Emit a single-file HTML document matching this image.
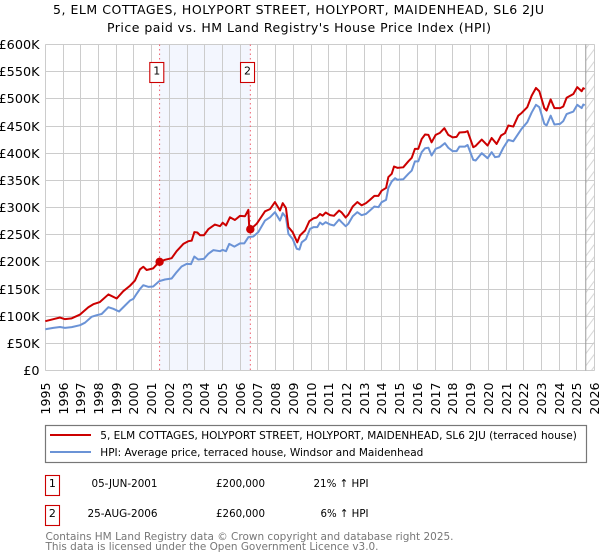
<!DOCTYPE html>
<html lang="en">
<head>
<meta charset="utf-8">
<title>Price paid vs. HM Land Registry's House Price Index</title>
<style>
html,body{margin:0;padding:0;background:#fff}
svg{display:block}
text{font-family:"DejaVu Sans","Liberation Sans",sans-serif;fill:#000}
</style>
</head>
<body>
<svg id="chart" xmlns="http://www.w3.org/2000/svg" width="600" height="560" viewBox="0 0 600 560">
  <defs>
    <pattern id="hatch" width="9" height="12.2" patternUnits="userSpaceOnUse" x="585.7" y="0">
      <line x1="0" y1="12.2" x2="9" y2="0" stroke="#ccc" stroke-width="0.8"/>
    </pattern>
  </defs>
  <text x="298.5" y="14" text-anchor="middle" font-size="12.5" textLength="491" lengthAdjust="spacing">5, ELM COTTAGES, HOLYPORT STREET, HOLYPORT, MAIDENHEAD, SL6 2JU</text>
  <text x="299" y="32" text-anchor="middle" font-size="12.5" textLength="384" lengthAdjust="spacing">Price paid vs. HM Land Registry's House Price Index (HPI)</text>

  <g id="plot"></g>

  <g>
    <rect x="45.5" y="425.5" width="541" height="37" fill="#fff" stroke="#777" stroke-width="1.2"/>
    <line x1="50" y1="435" x2="91" y2="435" stroke="#cc0000" stroke-width="2"/>
    <text x="100.3" y="439" font-size="11" textLength="476.5" lengthAdjust="spacingAndGlyphs">5, ELM COTTAGES, HOLYPORT STREET, HOLYPORT, MAIDENHEAD, SL6 2JU (terraced house)</text>
    <line x1="50" y1="452" x2="91" y2="452" stroke="#6b93d6" stroke-width="2"/>
    <text x="100.3" y="456" font-size="11" textLength="323" lengthAdjust="spacingAndGlyphs">HPI: Average price, terraced house, Windsor and Maidenhead</text>
  </g>

  <g>
    <rect x="45.5" y="475.5" width="14" height="20" fill="#fff" stroke="#cc0000" stroke-width="1.1"/>
    <text x="52.4" y="487" text-anchor="middle" font-size="11">1</text>
    <text x="157.5" y="487" text-anchor="end" font-size="11" textLength="66" lengthAdjust="spacingAndGlyphs">05-JUN-2001</text>
    <text x="265" y="487" text-anchor="end" font-size="11" textLength="49" lengthAdjust="spacingAndGlyphs">£200,000</text>
    <text x="368.5" y="487" text-anchor="end" font-size="11" textLength="55" lengthAdjust="spacingAndGlyphs">21% ↑ HPI</text>
  </g>
  <g>
    <rect x="45.5" y="505.5" width="14" height="20" fill="#fff" stroke="#cc0000" stroke-width="1.1"/>
    <text x="52.4" y="517" text-anchor="middle" font-size="11">2</text>
    <text x="157.5" y="517" text-anchor="end" font-size="11" textLength="70" lengthAdjust="spacingAndGlyphs">25-AUG-2006</text>
    <text x="265" y="517" text-anchor="end" font-size="11" textLength="49" lengthAdjust="spacingAndGlyphs">£260,000</text>
    <text x="368.5" y="517" text-anchor="end" font-size="11" textLength="48" lengthAdjust="spacingAndGlyphs">6% ↑ HPI</text>
  </g>

  <text x="45.5" y="540" font-size="11" style="fill:#777" textLength="408" lengthAdjust="spacingAndGlyphs">Contains HM Land Registry data © Crown copyright and database right 2025.</text>
  <text x="45.5" y="550" font-size="11" style="fill:#777" textLength="333" lengthAdjust="spacingAndGlyphs">This data is licensed under the Open Government Licence v3.0.</text>
</svg>
<script>
const xTickYears = [1995,1996,1997,1998,1999,2000,2001,2002,2003,2004,2005,2006,2007,2008,2009,2010,2011,2012,2013,2014,2015,2016,2017,2018,2019,2020,2021,2022,2023,2024,2025,2026];
const yTickValues = [0,50,100,150,200,250,300,350,400,450,500,550,600];
const yTickLabels = ['£0','£50K','£100K','£150K','£200K','£250K','£300K','£350K','£400K','£450K','£500K','£550K','£600K'];

const priceDates = [1995,1995.45,1995.83,1996.11,1996.49,1996.96,1997.43,1997.71,1998.08,1998.56,1999.03,1999.4,1999.78,2000.06,2000.34,2000.53,2000.72,2001.09,2001.43,2001.75,2002.13,2002.41,2002.79,2003.07,2003.26,2003.41,2003.58,2003.73,2003.95,2004.2,2004.57,2004.86,2005.01,2005.2,2005.42,2005.7,2005.99,2006.27,2006.46,2006.51,2006.58,2006.93,2007.4,2007.68,2007.96,2008.245,2008.4,2008.58,2008.72,2008.96,2009.22,2009.37,2009.66,2009.9,2010.13,2010.32,2010.5,2010.65,2010.82,2011.07,2011.29,2011.58,2011.72,2011.95,2012.1,2012.35,2012.61,2012.85,2013.1,2013.32,2013.57,2013.8,2013.98,2014.23,2014.36,2014.55,2014.68,2014.87,2015.2,2015.49,2015.68,2015.86,2016.05,2016.24,2016.43,2016.62,2016.8,2017.03,2017.27,2017.52,2017.74,2017.99,2018.21,2018.37,2018.68,2018.83,2019.15,2019.29,2019.63,2019.96,2020.19,2020.47,2020.72,2020.94,2021.13,2021.41,2021.69,2021.88,2022.2,2022.45,2022.69,2022.88,2023.16,2023.29,2023.52,2023.73,2024.05,2024.23,2024.42,2024.8,2025.02,2025.27,2025.36,2025.44];
const priceValues = [90.8,94.5,97.5,94.5,96,103,116.5,122,126,140,132.5,146,156,165.6,186,191,185,188,200,203.7,206.7,219.6,233,238,239,254.6,254,249,249,260,268.7,265.6,272,267,282,277,284.7,284,295.7,262,260,270,293,297,310,294.5,308,299,264,254.6,236,248.5,257.7,274.8,280,281.6,288,285,290.8,286,284.7,294.5,291,281.6,287,301.8,310,304,308,314,321.5,321.5,331,336,356,362,375.5,373,374,385,391.4,408,408,426,434.4,433.7,420,433.7,437.4,446,433.7,429,430,438,438.7,440.5,411,413.5,425,414,428,417,432.5,436.8,451,449,469,474,484.7,506,520,514,483,478.5,499,483,483,486,502,509,521.5,514,519.6,518];

const hpiDates = [1995,1995.45,1995.83,1996.11,1996.49,1996.96,1997.24,1997.61,1997.9,1998.18,1998.56,1998.84,1999.16,1999.5,1999.78,1999.97,2000.15,2000.34,2000.53,2000.81,2001.09,2001.43,2001.75,2002.13,2002.41,2002.69,2002.98,2003.22,2003.41,2003.63,2003.95,2004.2,2004.48,2004.86,2005.01,2005.2,2005.38,2005.67,2005.99,2006.23,2006.46,2006.74,2007.02,2007.4,2007.68,2007.96,2008.245,2008.4,2008.58,2008.72,2008.96,2009.19,2009.34,2009.47,2009.71,2009.94,2010.13,2010.35,2010.5,2010.65,2010.82,2011.07,2011.29,2011.58,2011.72,2011.95,2012.1,2012.35,2012.61,2012.85,2013.1,2013.32,2013.57,2013.8,2013.98,2014.23,2014.36,2014.55,2014.74,2014.87,2015.2,2015.49,2015.68,2015.86,2016.05,2016.24,2016.43,2016.62,2016.8,2017.03,2017.27,2017.55,2017.74,2017.99,2018.21,2018.37,2018.68,2018.83,2019.15,2019.29,2019.63,2019.96,2020.19,2020.38,2020.6,2020.85,2021.13,2021.41,2021.69,2021.88,2022.2,2022.45,2022.69,2022.88,2023.16,2023.29,2023.52,2023.73,2024.05,2024.23,2024.42,2024.8,2025.02,2025.27,2025.36,2025.44];
const hpiValues = [76,78.5,80,78.5,79.8,83.4,88,98.8,101.8,104,116.6,113.5,108.6,119.6,128.8,131.9,141,150,157,154,154.6,164.4,167.5,169.3,181,191.4,196.3,195.7,209.8,204.3,205.5,214.7,221.5,219.6,222,219.6,233,228,234,234,245.4,246.6,254.6,276,282,291.4,276,289.6,282,251.5,242,224,222.7,236,242,260.7,263.8,263.8,272.4,268.7,273,268.7,266.9,277.9,273,265.6,270,284,291.4,285.9,288.3,294.5,301.8,300.6,309.8,314,336,347.9,354,351,352,362,368,385,385,401.8,409,410,395.7,408,411,418.4,410,403.7,403.7,412,412,415,387.7,386.5,400,390.8,401.8,392.6,393.9,410,424.5,422,435.6,444.8,457,475,489,484.7,454,451,469,452.8,454,459,472,476.7,489,483,489.6,488];

const saleDates = [2001.45,2006.57];
const saleValues = [200,260];
const saleNumbers = ['1','2'];
const forecastStart = 2025.5;

const NS = 'http://www.w3.org/2000/svg';
const plot = document.getElementById('plot');
const xScale = function (year) { return 45.3 + (year - 1995) * 17.72; };
const yScale = function (value) { return 370.5 - value * 0.5433; };
const snap = function (p) { return Math.floor(p) + 0.5; };
const make = function (tag, attrs, text) {
  const el = document.createElementNS(NS, tag);
  Object.keys(attrs).forEach(function (k) { el.setAttribute(k, attrs[k]); });
  if (text !== undefined) el.textContent = text;
  plot.appendChild(el);
  return el;
};
const xLeft = xScale(xTickYears[0]);
const xRight = xScale(xTickYears[xTickYears.length - 1]);
const yTop = yScale(yTickValues[yTickValues.length - 1]);
const yBottom = yScale(yTickValues[0]);

const band = make('rect', {x: xScale(saleDates[0]), y: yTop, width: xScale(saleDates[1]) - xScale(saleDates[0]), height: yBottom - yTop, fill: '#f3f6fe'});



const hatch = make('rect', {x: xScale(forecastStart), y: yTop, width: xRight - xScale(forecastStart), height: yBottom - yTop, fill: 'url(#hatch)'});



yTickValues.forEach(function (v, i) {
  const py = snap(yScale(v));
  const line = make('line', {x1: xLeft, x2: xRight, y1: py, y2: py, stroke: '#ccc', 'stroke-width': 1});
  
  
  const label = make('text', {x: 39.5, y: py + 4.5, 'text-anchor': 'end', 'font-size': 12.8}, yTickLabels[i]);
  
  
});

xTickYears.forEach(function (yr) {
  const px = snap(xScale(yr));
  const line = make('line', {x1: px, x2: px, y1: yTop, y2: yBottom, stroke: '#ccc', 'stroke-width': 1});
  
  
  const label = make('text', {x: 0, y: 0, 'text-anchor': 'end', 'font-size': 12.6, transform: 'translate(' + (px + 4.5) + ',382.5) rotate(-90)'}, String(yr));
  
  
});

const forecastLine = make('line', {x1: xScale(forecastStart), x2: xScale(forecastStart), y1: yTop, y2: yBottom, stroke: '#999', 'stroke-width': 1});



saleDates.forEach(function (d) {
  const guide = make('line', {x1: xScale(d), x2: xScale(d), y1: yTop, y2: yBottom, stroke: '#f0606e', 'stroke-width': 1, 'stroke-dasharray': '1.5 3'});
  
  
});

const buildPath = function (dates, values) {
  return dates.map(function (d, i) {
    return (i ? 'L' : 'M') + xScale(d).toFixed(2) + ' ' + yScale(values[i]).toFixed(2);
  }).join('');
};

const hpiLine = make('path', {d: buildPath(hpiDates, hpiValues), fill: 'none', stroke: '#6b93d6', 'stroke-width': 2, 'stroke-linejoin': 'round'});



const priceLine = make('path', {d: buildPath(priceDates, priceValues), fill: 'none', stroke: '#cc0000', 'stroke-width': 2, 'stroke-linejoin': 'round'});



saleDates.forEach(function (d, i) {
  const dot = make('circle', {cx: xScale(d), cy: yScale(saleValues[i]), r: 4.2, fill: '#cc0000'});
  
  
  const badge = make('rect', {x: xScale(d) - 9.8, y: 62.5, width: 14, height: 20, fill: '#fff', stroke: '#cc0000', 'stroke-width': 1.1});
  
  
  const num = make('text', {x: xScale(d) - 2.8, y: 74.5, 'text-anchor': 'middle', 'font-size': 11}, saleNumbers[i]);
  
  
});
</script>
</body>
</html>
